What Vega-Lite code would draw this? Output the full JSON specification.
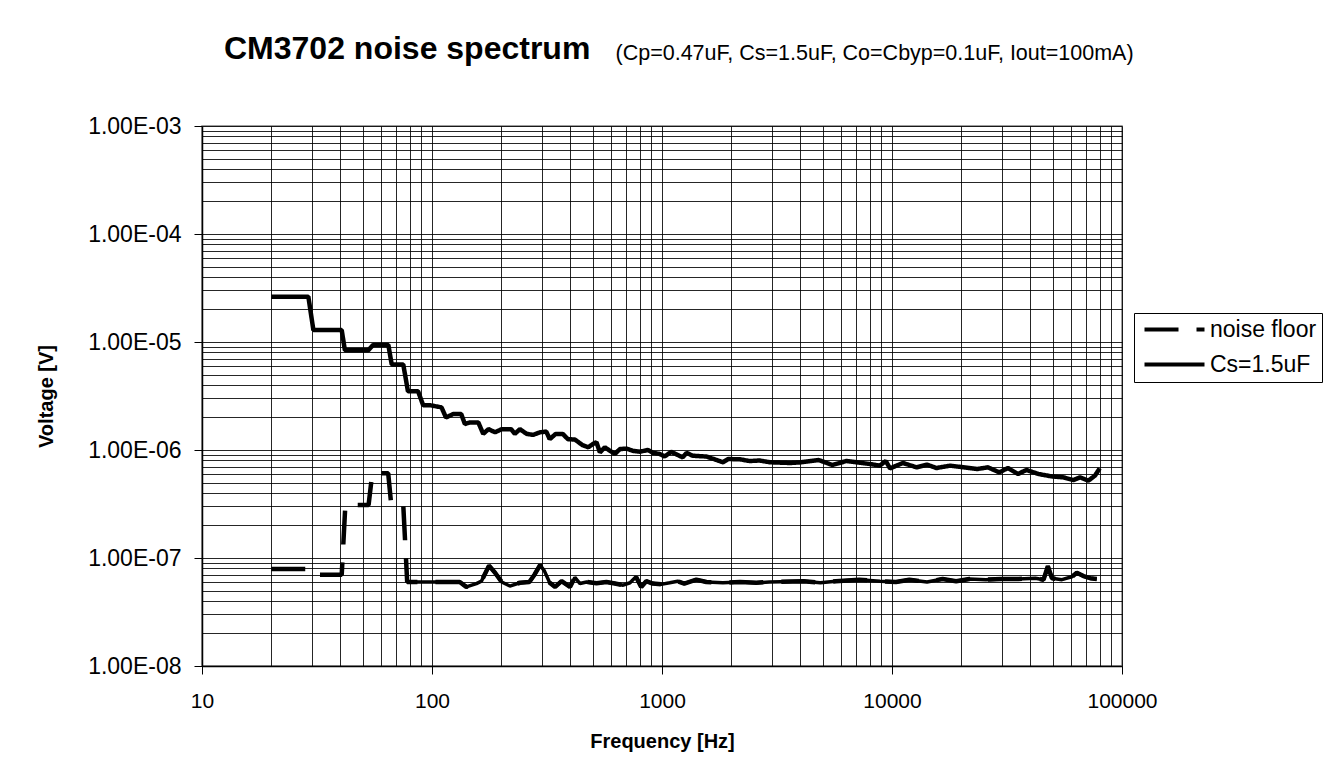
{
  "$schema": "https://vega.github.io/schema/vega-lite/v6.json",
  "width": 920,
  "height": 540,
  "autosize": {"type": "none"},
  "padding": {"left": 202, "top": 126, "right": 212, "bottom": 103},
  "background": "white",
  "title": {
    "text": "CM3702 noise spectrum",
    "anchor": "start",
    "frame": "group",
    "dx": 22,
    "offset": -24,
    "font": "Liberation Sans",
    "fontSize": 32,
    "fontWeight": "bold",
    "color": "black"
  },
  "resolve": {"axis": {"x": "independent"}},
  "data": {
    "values": [
      {"series": "Cs=1.5uF", "freq": 20, "voltage": 2.63e-5},
      {"series": "Cs=1.5uF", "freq": 29, "voltage": 2.63e-5},
      {"series": "Cs=1.5uF", "freq": 30.5, "voltage": 1.29e-5},
      {"series": "Cs=1.5uF", "freq": 40.5, "voltage": 1.29e-5},
      {"series": "Cs=1.5uF", "freq": 41.8, "voltage": 8.4e-6},
      {"series": "Cs=1.5uF", "freq": 52.9, "voltage": 8.4e-6},
      {"series": "Cs=1.5uF", "freq": 55.5, "voltage": 9.4e-6},
      {"series": "Cs=1.5uF", "freq": 64.6, "voltage": 9.4e-6},
      {"series": "Cs=1.5uF", "freq": 66.8, "voltage": 6.2e-6},
      {"series": "Cs=1.5uF", "freq": 75, "voltage": 6.2e-6},
      {"series": "Cs=1.5uF", "freq": 78.6, "voltage": 3.5e-6},
      {"series": "Cs=1.5uF", "freq": 87, "voltage": 3.5e-6},
      {"series": "Cs=1.5uF", "freq": 91.5, "voltage": 2.6e-6},
      {"series": "Cs=1.5uF", "freq": 98, "voltage": 2.6e-6},
      {"series": "Cs=1.5uF", "freq": 110, "voltage": 2.48e-6},
      {"series": "Cs=1.5uF", "freq": 115, "voltage": 2.0e-6},
      {"series": "Cs=1.5uF", "freq": 123.6, "voltage": 2.15e-6},
      {"series": "Cs=1.5uF", "freq": 134, "voltage": 2.15e-6},
      {"series": "Cs=1.5uF", "freq": 139, "voltage": 1.74e-6},
      {"series": "Cs=1.5uF", "freq": 146, "voltage": 1.8e-6},
      {"series": "Cs=1.5uF", "freq": 159, "voltage": 1.8e-6},
      {"series": "Cs=1.5uF", "freq": 167, "voltage": 1.41e-6},
      {"series": "Cs=1.5uF", "freq": 176, "voltage": 1.56e-6},
      {"series": "Cs=1.5uF", "freq": 188, "voltage": 1.46e-6},
      {"series": "Cs=1.5uF", "freq": 201, "voltage": 1.56e-6},
      {"series": "Cs=1.5uF", "freq": 221, "voltage": 1.56e-6},
      {"series": "Cs=1.5uF", "freq": 229, "voltage": 1.41e-6},
      {"series": "Cs=1.5uF", "freq": 241, "voltage": 1.56e-6},
      {"series": "Cs=1.5uF", "freq": 258, "voltage": 1.41e-6},
      {"series": "Cs=1.5uF", "freq": 275, "voltage": 1.38e-6},
      {"series": "Cs=1.5uF", "freq": 295, "voltage": 1.46e-6},
      {"series": "Cs=1.5uF", "freq": 314, "voltage": 1.48e-6},
      {"series": "Cs=1.5uF", "freq": 325, "voltage": 1.26e-6},
      {"series": "Cs=1.5uF", "freq": 345, "voltage": 1.41e-6},
      {"series": "Cs=1.5uF", "freq": 370, "voltage": 1.41e-6},
      {"series": "Cs=1.5uF", "freq": 390, "voltage": 1.26e-6},
      {"series": "Cs=1.5uF", "freq": 418, "voltage": 1.25e-6},
      {"series": "Cs=1.5uF", "freq": 451, "voltage": 1.11e-6},
      {"series": "Cs=1.5uF", "freq": 478, "voltage": 1.06e-6},
      {"series": "Cs=1.5uF", "freq": 502, "voltage": 1.14e-6},
      {"series": "Cs=1.5uF", "freq": 519, "voltage": 1.18e-6},
      {"series": "Cs=1.5uF", "freq": 537, "voltage": 9.5e-7},
      {"series": "Cs=1.5uF", "freq": 564, "voltage": 1.06e-6},
      {"series": "Cs=1.5uF", "freq": 593, "voltage": 9.85e-7},
      {"series": "Cs=1.5uF", "freq": 624, "voltage": 9.2e-7},
      {"series": "Cs=1.5uF", "freq": 656, "voltage": 1.02e-6},
      {"series": "Cs=1.5uF", "freq": 701, "voltage": 1.03e-6},
      {"series": "Cs=1.5uF", "freq": 750, "voltage": 9.8e-7},
      {"series": "Cs=1.5uF", "freq": 801, "voltage": 9.65e-7},
      {"series": "Cs=1.5uF", "freq": 868, "voltage": 1.0e-6},
      {"series": "Cs=1.5uF", "freq": 916, "voltage": 9.4e-7},
      {"series": "Cs=1.5uF", "freq": 977, "voltage": 9.2e-7},
      {"series": "Cs=1.5uF", "freq": 1026, "voltage": 8.7e-7},
      {"series": "Cs=1.5uF", "freq": 1096, "voltage": 9.6e-7},
      {"series": "Cs=1.5uF", "freq": 1170, "voltage": 9.0e-7},
      {"series": "Cs=1.5uF", "freq": 1230, "voltage": 8.55e-7},
      {"series": "Cs=1.5uF", "freq": 1280, "voltage": 9.4e-7},
      {"series": "Cs=1.5uF", "freq": 1360, "voltage": 8.85e-7},
      {"series": "Cs=1.5uF", "freq": 1560, "voltage": 8.7e-7},
      {"series": "Cs=1.5uF", "freq": 1720, "voltage": 8.1e-7},
      {"series": "Cs=1.5uF", "freq": 1840, "voltage": 7.7e-7},
      {"series": "Cs=1.5uF", "freq": 1940, "voltage": 8.25e-7},
      {"series": "Cs=1.5uF", "freq": 2180, "voltage": 8.2e-7},
      {"series": "Cs=1.5uF", "freq": 2410, "voltage": 7.9e-7},
      {"series": "Cs=1.5uF", "freq": 2650, "voltage": 8.0e-7},
      {"series": "Cs=1.5uF", "freq": 2950, "voltage": 7.7e-7},
      {"series": "Cs=1.5uF", "freq": 3600, "voltage": 7.58e-7},
      {"series": "Cs=1.5uF", "freq": 4000, "voltage": 7.69e-7},
      {"series": "Cs=1.5uF", "freq": 4800, "voltage": 8.08e-7},
      {"series": "Cs=1.5uF", "freq": 5500, "voltage": 7.26e-7},
      {"series": "Cs=1.5uF", "freq": 6340, "voltage": 7.91e-7},
      {"series": "Cs=1.5uF", "freq": 8000, "voltage": 7.42e-7},
      {"series": "Cs=1.5uF", "freq": 8850, "voltage": 7.16e-7},
      {"series": "Cs=1.5uF", "freq": 9400, "voltage": 7.91e-7},
      {"series": "Cs=1.5uF", "freq": 9800, "voltage": 6.76e-7},
      {"series": "Cs=1.5uF", "freq": 11150, "voltage": 7.58e-7},
      {"series": "Cs=1.5uF", "freq": 12800, "voltage": 6.91e-7},
      {"series": "Cs=1.5uF", "freq": 14200, "voltage": 7.31e-7},
      {"series": "Cs=1.5uF", "freq": 15600, "voltage": 6.81e-7},
      {"series": "Cs=1.5uF", "freq": 17900, "voltage": 7.16e-7},
      {"series": "Cs=1.5uF", "freq": 20500, "voltage": 6.91e-7},
      {"series": "Cs=1.5uF", "freq": 23500, "voltage": 6.67e-7},
      {"series": "Cs=1.5uF", "freq": 26100, "voltage": 6.91e-7},
      {"series": "Cs=1.5uF", "freq": 29300, "voltage": 6.21e-7},
      {"series": "Cs=1.5uF", "freq": 31900, "voltage": 6.81e-7},
      {"series": "Cs=1.5uF", "freq": 35300, "voltage": 6.0e-7},
      {"series": "Cs=1.5uF", "freq": 38400, "voltage": 6.53e-7},
      {"series": "Cs=1.5uF", "freq": 43300, "voltage": 6.0e-7},
      {"series": "Cs=1.5uF", "freq": 49400, "voltage": 5.7e-7},
      {"series": "Cs=1.5uF", "freq": 55600, "voltage": 5.58e-7},
      {"series": "Cs=1.5uF", "freq": 61500, "voltage": 5.27e-7},
      {"series": "Cs=1.5uF", "freq": 65700, "voltage": 5.58e-7},
      {"series": "Cs=1.5uF", "freq": 71400, "voltage": 5.2e-7},
      {"series": "Cs=1.5uF", "freq": 76300, "voltage": 5.79e-7},
      {"series": "Cs=1.5uF", "freq": 80000, "voltage": 6.76e-7},
      {"series": "noise floor", "freq": 20, "voltage": 7.9e-8},
      {"series": "noise floor", "freq": 29.5, "voltage": 7.9e-8},
      {"series": "noise floor", "freq": 30.5, "voltage": 7.0e-8},
      {"series": "noise floor", "freq": 40.5, "voltage": 7.0e-8},
      {"series": "noise floor", "freq": 42, "voltage": 3.1e-7},
      {"series": "noise floor", "freq": 53, "voltage": 3.1e-7},
      {"series": "noise floor", "freq": 55, "voltage": 6.1e-7},
      {"series": "noise floor", "freq": 64.5, "voltage": 6.1e-7},
      {"series": "noise floor", "freq": 66.5, "voltage": 3.1e-7},
      {"series": "noise floor", "freq": 75, "voltage": 3.1e-7},
      {"series": "noise floor", "freq": 78, "voltage": 6.0e-8},
      {"series": "noise floor", "freq": 98, "voltage": 6.0e-8},
      {"series": "noise floor", "freq": 132, "voltage": 6.0e-8},
      {"series": "noise floor", "freq": 141, "voltage": 5.4e-8},
      {"series": "noise floor", "freq": 156, "voltage": 5.8e-8},
      {"series": "noise floor", "freq": 164, "voltage": 6.1e-8},
      {"series": "noise floor", "freq": 177, "voltage": 8.5e-8},
      {"series": "noise floor", "freq": 188, "voltage": 7.3e-8},
      {"series": "noise floor", "freq": 201, "voltage": 6.0e-8},
      {"series": "noise floor", "freq": 218, "voltage": 5.5e-8},
      {"series": "noise floor", "freq": 241, "voltage": 5.9e-8},
      {"series": "noise floor", "freq": 265, "voltage": 6.0e-8},
      {"series": "noise floor", "freq": 279, "voltage": 7.0e-8},
      {"series": "noise floor", "freq": 295, "voltage": 8.6e-8},
      {"series": "noise floor", "freq": 308, "voltage": 7.6e-8},
      {"series": "noise floor", "freq": 325, "voltage": 5.9e-8},
      {"series": "noise floor", "freq": 343, "voltage": 5.4e-8},
      {"series": "noise floor", "freq": 366, "voltage": 6.1e-8},
      {"series": "noise floor", "freq": 398, "voltage": 5.4e-8},
      {"series": "noise floor", "freq": 418, "voltage": 6.6e-8},
      {"series": "noise floor", "freq": 440, "voltage": 5.8e-8},
      {"series": "noise floor", "freq": 470, "voltage": 6.0e-8},
      {"series": "noise floor", "freq": 519, "voltage": 5.85e-8},
      {"series": "noise floor", "freq": 573, "voltage": 6.0e-8},
      {"series": "noise floor", "freq": 624, "voltage": 5.8e-8},
      {"series": "noise floor", "freq": 678, "voltage": 5.6e-8},
      {"series": "noise floor", "freq": 726, "voltage": 5.9e-8},
      {"series": "noise floor", "freq": 771, "voltage": 6.7e-8},
      {"series": "noise floor", "freq": 812, "voltage": 5.4e-8},
      {"series": "noise floor", "freq": 854, "voltage": 6.1e-8},
      {"series": "noise floor", "freq": 912, "voltage": 5.8e-8},
      {"series": "noise floor", "freq": 991, "voltage": 5.7e-8},
      {"series": "noise floor", "freq": 1080, "voltage": 5.9e-8},
      {"series": "noise floor", "freq": 1170, "voltage": 6.1e-8},
      {"series": "noise floor", "freq": 1250, "voltage": 5.8e-8},
      {"series": "noise floor", "freq": 1410, "voltage": 6.3e-8},
      {"series": "noise floor", "freq": 1560, "voltage": 6.0e-8},
      {"series": "noise floor", "freq": 1840, "voltage": 5.9e-8},
      {"series": "noise floor", "freq": 2180, "voltage": 6.0e-8},
      {"series": "noise floor", "freq": 2570, "voltage": 5.9e-8},
      {"series": "noise floor", "freq": 2930, "voltage": 6.0e-8},
      {"series": "noise floor", "freq": 4130, "voltage": 6.1e-8},
      {"series": "noise floor", "freq": 4880, "voltage": 5.9e-8},
      {"series": "noise floor", "freq": 5700, "voltage": 6.1e-8},
      {"series": "noise floor", "freq": 7200, "voltage": 6.3e-8},
      {"series": "noise floor", "freq": 8860, "voltage": 6.1e-8},
      {"series": "noise floor", "freq": 10400, "voltage": 6.0e-8},
      {"series": "noise floor", "freq": 11900, "voltage": 6.3e-8},
      {"series": "noise floor", "freq": 14200, "voltage": 6.0e-8},
      {"series": "noise floor", "freq": 16600, "voltage": 6.4e-8},
      {"series": "noise floor", "freq": 19000, "voltage": 6.1e-8},
      {"series": "noise floor", "freq": 21700, "voltage": 6.4e-8},
      {"series": "noise floor", "freq": 25600, "voltage": 6.3e-8},
      {"series": "noise floor", "freq": 30000, "voltage": 6.4e-8},
      {"series": "noise floor", "freq": 35500, "voltage": 6.4e-8},
      {"series": "noise floor", "freq": 42000, "voltage": 6.5e-8},
      {"series": "noise floor", "freq": 45600, "voltage": 6.3e-8},
      {"series": "noise floor", "freq": 47600, "voltage": 8.4e-8},
      {"series": "noise floor", "freq": 49600, "voltage": 6.5e-8},
      {"series": "noise floor", "freq": 54800, "voltage": 6.3e-8},
      {"series": "noise floor", "freq": 60500, "voltage": 6.7e-8},
      {"series": "noise floor", "freq": 63600, "voltage": 7.3e-8},
      {"series": "noise floor", "freq": 68000, "voltage": 6.8e-8},
      {"series": "noise floor", "freq": 72700, "voltage": 6.5e-8},
      {"series": "noise floor", "freq": 77700, "voltage": 6.4e-8}
    ]
  },
  "encoding": {
    "y": {
      "field": "voltage",
      "type": "quantitative",
      "scale": {"type": "log", "domain": [1e-8, 1e-3]},
      "axis": {
        "values": [1e-8, 2e-8, 3e-8, 4e-8, 5e-8, 6e-8, 7e-8, 8e-8, 9e-8, 1e-7, 2e-7, 3e-7, 4e-7, 5e-7, 6e-7, 7e-7, 8e-7, 9e-7, 1e-6, 2e-6, 3e-6, 4e-6, 5e-6, 6e-6, 7e-6, 8e-6, 9e-6, 1e-5, 2e-5, 3e-5, 4e-5, 5e-5, 6e-5, 7e-5, 8e-5, 9e-5, 1e-4, 2e-4, 3e-4, 4e-4, 5e-4, 6e-4, 7e-4, 8e-4, 9e-4, 1e-3],
        "labelExpr": "abs(log(datum.value)/LN10 - round(log(datum.value)/LN10)) < 0.001 ? '1.00E-0' + abs(round(log(datum.value)/LN10)) : ''",
        "grid": true,
        "gridColor": "#000000",
        "gridWidth": 1,
        "gridOpacity": 0.85,
        "domainColor": "#000000",
        "domainWidth": 1.5,
        "tickColor": "#000000",
        "tickSize": 8,
        "tickOpacity": {"condition": {"test": "abs(log(datum.value)/LN10 - round(log(datum.value)/LN10)) < 0.001", "value": 1}, "value": 0},
        "labelFont": "Liberation Sans",
        "labelFontSize": 23,
        "labelColor": "#000000",
        "labelPadding": 13,
        "labelFlush": false,
        "labelOverlap": false,
        "title": "Voltage [V]",
        "titleFont": "Liberation Sans",
        "titleFontSize": 20,
        "titleFontWeight": "bold",
        "titleColor": "#000000",
        "titleAngle": 270,
        "titleBaseline": "middle",
        "titleAlign": "center",
        "titleX": -156,
        "titleY": 270
      }
    }
  },
  "layer": [
    {
      "mark": {"type": "line", "color": "#000000", "strokeWidth": 4.5, "strokeCap": "butt", "strokeJoin": "bevel"},
      "encoding": {
        "x": {
          "field": "freq",
          "type": "quantitative",
          "scale": {"type": "log", "domain": [10, 100000]},
          "axis": {
            "orient": "bottom",
            "values": [10, 20, 30, 40, 50, 60, 70, 80, 90, 100, 200, 300, 400, 500, 600, 700, 800, 900, 1000, 2000, 3000, 4000, 5000, 6000, 7000, 8000, 9000, 10000, 20000, 30000, 40000, 50000, 60000, 70000, 80000, 90000, 100000],
            "labelExpr": "abs(log(datum.value)/LN10 - round(log(datum.value)/LN10)) < 0.001 ? format(datum.value, 'd') : ''",
            "grid": true,
            "gridColor": "#000000",
            "gridWidth": 1,
            "gridOpacity": 0.85,
            "domainColor": "#000000",
            "domainWidth": 1.5,
            "tickColor": "#000000",
            "tickSize": 8,
            "tickOpacity": {"condition": {"test": "abs(log(datum.value)/LN10 - round(log(datum.value)/LN10)) < 0.001", "value": 1}, "value": 0},
            "labelFont": "Liberation Sans",
            "labelFontSize": 21,
            "labelColor": "#000000",
            "labelPadding": 16,
            "labelFlush": false,
            "labelOverlap": false,
            "title": "Frequency [Hz]",
            "titleFont": "Liberation Sans",
            "titleFontSize": 20,
            "titleFontWeight": "bold",
            "titleColor": "#000000",
            "titleBaseline": "middle",
            "titleX": 460,
            "titleY": 75
          }
        },
        "strokeDash": {
          "field": "series",
          "type": "nominal",
          "scale": {"domain": ["noise floor", "Cs=1.5uF"], "range": [[34, 18], [1, 0]]},
          "legend": {
            "title": null,
            "orient": "none",
            "legendX": 932,
            "legendY": 187,
            "strokeColor": "#000000",
            "fillColor": "#ffffff",
            "padding": 5,
            "symbolType": "M-6,0H6",
            "symbolSize": 100,
            "symbolOffset": 24,
            "symbolStrokeWidth": 4,
            "symbolStrokeColor": "#000000",
            "labelFont": "Liberation Sans",
            "labelFontSize": 23,
            "labelColor": "#000000",
            "labelOffset": 24,
            "rowPadding": 11
          }
        }
      }
    },
    {
      "transform": [{"filter": "datum.series == 'noise floor' && datum.freq >= 78"}],
      "mark": {"type": "line", "color": "#000000", "strokeWidth": 3.5, "strokeCap": "butt", "strokeJoin": "bevel"},
      "encoding": {
        "x": {
          "field": "freq",
          "type": "quantitative",
          "scale": {"type": "log", "domain": [10, 100000]},
          "axis": {
            "orient": "top",
            "domain": false,
            "ticks": false,
            "labels": false,
            "grid": false,
            "title": "(Cp=0.47uF, Cs=1.5uF, Co=Cbyp=0.1uF, Iout=100mA)",
            "titleAlign": "left",
            "titleAnchor": "start",
            "titleBaseline": "alphabetic",
            "titleX": 413,
            "titleY": -67,
            "titleFont": "Liberation Sans",
            "titleFontSize": 21.5,
            "titleFontWeight": "normal",
            "titleColor": "#000000"
          }
        }
      }
    }
  ],
  "config": {
    "view": {"stroke": "#808080", "strokeWidth": 1.5},
    "font": "Liberation Sans"
  }
}
